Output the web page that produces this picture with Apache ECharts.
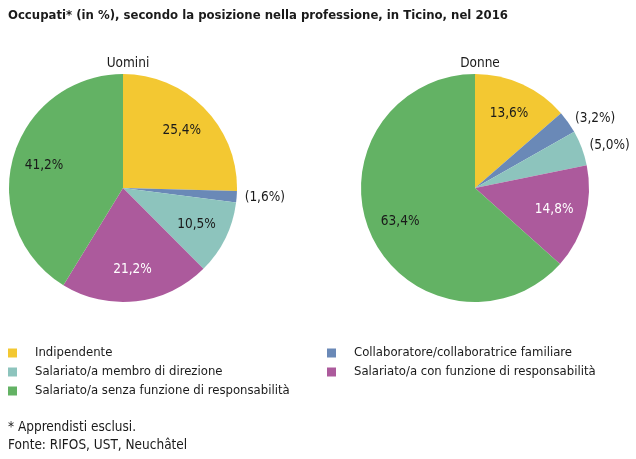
<!DOCTYPE html>
<html>
<head>
<meta charset="utf-8">
<script src="https://cdn.jsdelivr.net/npm/echarts@6/dist/echarts.min.js"></script>
<style>
html,body{margin:0;padding:0;background:#fff;}
#chart{width:636px;height:459px;}
</style>
</head>
<body>
<div id="chart"></div>
<script>
const FONT = '"Liberation Sans Narrow", "DejaVu Sans Condensed", sans-serif';
const titleText = 'Occupati* (in %), secondo la posizione nella professione, in Ticino, nel 2016';
const pieTitles = ['Uomini', 'Donne'];
const categories = [
  'Indipendente',
  'Collaboratore/collaboratrice familiare',
  'Salariato/a membro di direzione',
  'Salariato/a con funzione di responsabilità',
  'Salariato/a senza funzione di responsabilità'
];
const uomini = [25.4, 1.6, 10.5, 21.2, 41.2];
const donne = [13.6, 3.2, 5.0, 14.8, 63.4];
const colors = ['#F3C832', '#6A89B7', '#8DC4BD', '#AC5A9C', '#63B264'];
const labelColors = ['#1a1a1a', '#1a1a1a', '#1a1a1a', '#ffffff', '#1a1a1a'];
const outsideThreshold = 6;
const legendLeft = [categories[0], categories[2], categories[4]];
const legendRight = [categories[1], categories[3]];
const footnotes = ['* Apprendisti esclusi.', 'Fonte: RIFOS, UST, Neuchâtel'];

const fmt = v => v.toFixed(1).replace('.', ',') + '%';
const centers = [[123, 188], [475, 188]];
const R = 114;

function makeSeries(values, center) {
  const main = {
    type: 'pie',
    center: center,
    radius: [0, R],
    startAngle: 90,
    clockwise: true,
    avoidLabelOverlap: false,
    silent: true,
    emphasis: { disabled: true },
    itemStyle: { borderWidth: 0 },
    labelLine: { show: false, length: 6, length2: 0 },
    label: {
      show: true, position: 'outside', distanceToLabelLine: 2,
      fontFamily: FONT, fontSize: 13.5, color: '#1a1a1a',
      formatter: p => '(' + fmt(p.value) + ')'
    },
    data: values.map((v, i) => ({
      name: categories[i], value: v,
      itemStyle: { color: colors[i] },
      label: { show: v < outsideThreshold }
    }))
  };
  const overlay = {
    type: 'pie',
    center: center,
    radius: [44, R],
    startAngle: 90,
    clockwise: true,
    avoidLabelOverlap: false,
    silent: true,
    emphasis: { disabled: true },
    legendHoverLink: false,
    itemStyle: { color: 'rgba(0,0,0,0)', borderWidth: 0 },
    labelLine: { show: false },
    label: {
      show: true, position: 'inside',
      fontFamily: FONT, fontSize: 13.5,
      formatter: p => fmt(p.value)
    },
    data: values.map((v, i) => ({
      name: categories[i], value: v,
      label: { show: v >= outsideThreshold, color: labelColors[i] }
    }))
  };
  return [main, overlay];
}

const legendCommon = {
  orient: 'vertical',
  icon: 'rect',
  itemWidth: 9,
  itemHeight: 9,
  itemGap: 5,
  selectedMode: false,
  textStyle: { fontFamily: FONT, fontSize: 13, color: '#1a1a1a', lineHeight: 14, padding: [0, 0, 0, 13] }
};

const chart = echarts.init(document.getElementById('chart'), null, { renderer: 'canvas' });
chart.setOption({
  animation: false,
  backgroundColor: '#ffffff',
  title: [
    { text: titleText, left: 3, top: 4, textStyle: { fontFamily: FONT, fontSize: 13, fontWeight: 'bold', color: '#1a1a1a' } },
    { text: pieTitles[0], left: centers[0][0], top: 51, textAlign: 'center', textStyle: { fontFamily: FONT, fontSize: 13.5, fontWeight: 'normal', color: '#1a1a1a' } },
    { text: pieTitles[1], left: centers[1][0], top: 51, textAlign: 'center', textStyle: { fontFamily: FONT, fontSize: 13.5, fontWeight: 'normal', color: '#1a1a1a' } }
  ],
  legend: [
    Object.assign({}, legendCommon, {
      left: 3, top: 341,
      data: legendLeft.map(n => ({ name: n, itemStyle: { color: colors[categories.indexOf(n)] } }))
    }),
    Object.assign({}, legendCommon, {
      left: 322, top: 341,
      data: legendRight.map(n => ({ name: n, itemStyle: { color: colors[categories.indexOf(n)] } }))
    })
  ],
  graphic: footnotes.map((t, i) => ({
    type: 'text', left: 8, top: 420 + i * 18,
    style: { text: t, fontFamily: FONT, fontSize: 13.5, fill: '#1a1a1a' }
  })),
  series: [].concat(makeSeries(uomini, centers[0]), makeSeries(donne, centers[1]))
});
</script>
</body>
</html>
